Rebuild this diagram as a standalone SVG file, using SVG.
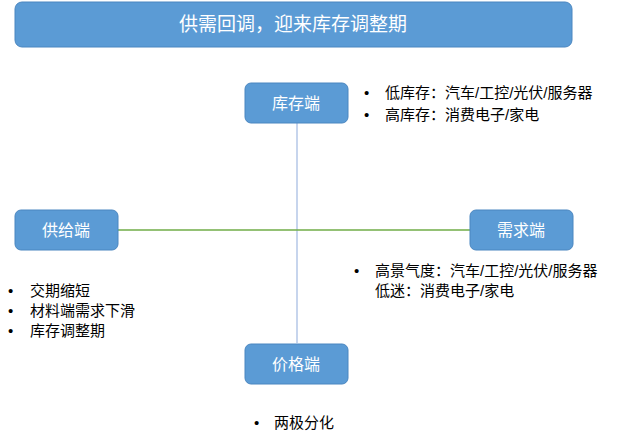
<svg xmlns="http://www.w3.org/2000/svg" width="640" height="443" viewBox="0 0 640 443">
<style>
.box{fill:#5B9BD5;stroke:#4A86C0;stroke-width:1}
.bt{fill:#fff;font-family:"Liberation Sans","Noto Sans CJK SC",sans-serif;font-size:16px;text-anchor:middle;dominant-baseline:central}
.t{fill:#000;font-family:"Liberation Sans","Noto Sans CJK SC",sans-serif;font-size:15px;dominant-baseline:central}
</style>
<rect width="640" height="443" fill="#fff"/>
<g id="title"><rect class="box" x="15" y="2" width="557" height="45" rx="7"/><text class="bt" x="293" y="24" style="font-size:19px">供需回调，迎来库存调整期</text></g>
<g id="connectors">
<line x1="297" y1="123" x2="297" y2="343" stroke="#B4C7E7" stroke-width="1.5"/>
<line x1="118" y1="230" x2="470" y2="230" stroke="#70AD47" stroke-width="1.5"/>
</g>
<g id="inventory"><rect class="box" x="245" y="83" width="103" height="40" rx="6"/><text class="bt" x="296" y="103">库存端</text></g>
<g id="supply"><rect class="box" x="15" y="210" width="103" height="40" rx="6"/><text class="bt" x="66" y="230">供给端</text></g>
<g id="demand"><rect class="box" x="470" y="210" width="103" height="40" rx="6"/><text class="bt" x="521" y="230">需求端</text></g>
<g id="price"><rect class="box" x="245" y="344" width="103" height="40" rx="6"/><text class="bt" x="296" y="364">价格端</text></g>
<g id="notes">
<text class="t" x="364" y="92">•</text><text class="t" x="385" y="92">低库存：汽车/工控/光伏/服务器</text>
<text class="t" x="364" y="114">•</text><text class="t" x="385" y="114">高库存：消费电子/家电</text>
<text class="t" x="8" y="290">•</text><text class="t" x="30" y="290">交期缩短</text>
<text class="t" x="8" y="310">•</text><text class="t" x="30" y="310">材料端需求下滑</text>
<text class="t" x="8" y="330">•</text><text class="t" x="30" y="330">库存调整期</text>
<text class="t" x="354" y="270">•</text><text class="t" x="375" y="270">高景气度：汽车/工控/光伏/服务器</text>
<text class="t" x="375" y="290">低迷：消费电子/家电</text>
<text class="t" x="254" y="422">•</text><text class="t" x="274" y="422">两极分化</text>
</g>
</svg>
